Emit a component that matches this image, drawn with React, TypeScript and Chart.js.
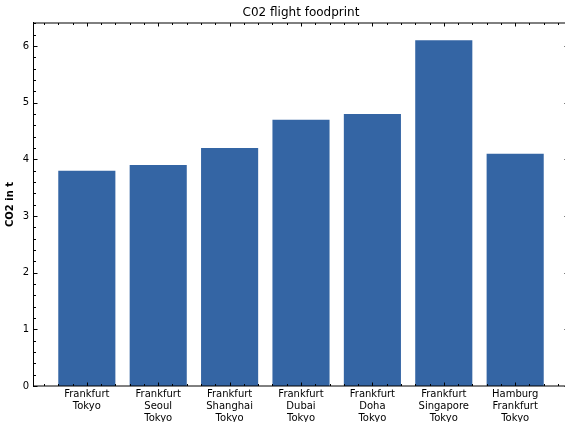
import { useEffect, useRef } from 'react';
import { Chart, registerables } from 'chart.js';

Chart.register(...registerables);

// Flight routes (one line per stop) and their CO2 footprint in tonnes
const routes: string[][] = [
  ['Frankfurt', 'Tokyo'],
  ['Frankfurt', 'Seoul', 'Tokyo'],
  ['Frankfurt', 'Shanghai', 'Tokyo'],
  ['Frankfurt', 'Dubai', 'Tokyo'],
  ['Frankfurt', 'Doha', 'Tokyo'],
  ['Frankfurt', 'Singapore', 'Tokyo'],
  ['Hamburg', 'Frankfurt', 'Tokyo'],
];
const co2Tonnes = [3.8, 3.9, 4.2, 4.7, 4.8, 6.1, 4.1];
const yTickValues = [0, 1, 2, 3, 4, 5, 6];

const X_MIN = -0.74;
const X_MAX = 6.74;
const Y_MAX = 6.405;
const MINOR_STEP = 0.2;

const FONT = 'DejaVu Sans';
const BAR_COLOR = '#3465a4';

function range(from: number, to: number, step: number): number[] {
  const out: number[] = [];
  const n = Math.floor((to - from) / step + 1e-9);
  for (let i = 0; i <= n; i++) out.push(+(from + i * step).toFixed(6));
  return out;
}

// Frame on all four sides with matplotlib-like inward ticks (major + minor)
const frameTicks = {
  id: 'frameTicks',
  afterDatasetsDraw(chart: any) {
    const { ctx, chartArea, scales } = chart;
    const { left, right, top, bottom } = chartArea;
    const xs = scales.x;
    const ys = scales.y;
    const L = Math.round(left) - 1;
    const R = Math.round(right);
    const T = Math.round(top);
    const B = Math.round(bottom);
    ctx.save();
    ctx.lineWidth = 1;
    ctx.strokeStyle = '#000';
    // top, bottom and right spines (soft), left spine crisp
    ctx.beginPath();
    ctx.moveTo(L, T);
    ctx.lineTo(R + 1, T);
    ctx.moveTo(L, B);
    ctx.lineTo(R + 1, B);
    ctx.moveTo(R + 0.5, T);
    ctx.lineTo(R + 0.5, B);
    ctx.stroke();
    ctx.fillStyle = '#000';
    ctx.fillRect(L, T - 1, 1, B - T + 1);

    const majorLen = 3.5;
    const minorLen = 2;
    const xMajors = routes.map((_, i) => i);
    const xMinors = range(Math.ceil(X_MIN / MINOR_STEP) * MINOR_STEP, X_MAX, MINOR_STEP).filter(
      (v) => Math.abs(v - Math.round(v)) > 1e-6
    );
    const yMinors = range(0, Y_MAX, MINOR_STEP).filter((v) => Math.abs(v - Math.round(v)) > 1e-6);

    ctx.beginPath();
    const vTick = (v: number, len: number) => {
      const px = Math.round(xs.getPixelForValue(v)) + 0.5;
      ctx.moveTo(px, B);
      ctx.lineTo(px, B - len);
      ctx.moveTo(px, T);
      ctx.lineTo(px, T + len);
    };
    const hTick = (v: number, len: number) => {
      const py = Math.round(ys.getPixelForValue(v)) + 0.5;
      ctx.moveTo(L, py);
      ctx.lineTo(L + 1 + len, py);
      ctx.moveTo(R + 1, py);
      ctx.lineTo(R - len, py);
    };
    xMajors.forEach((v) => vTick(v, majorLen));
    xMinors.forEach((v) => vTick(v, minorLen));
    yTickValues.forEach((v) => hTick(v, majorLen));
    yMinors.forEach((v) => hTick(v, minorLen));
    ctx.stroke();
    ctx.restore();
  },
};

export default function App() {
  const canvasRef = useRef<HTMLCanvasElement | null>(null);

  useEffect(() => {
    const canvas = canvasRef.current;
    if (!canvas) return;
    const chart = new Chart(canvas, {
      type: 'bar',
      data: {
        datasets: [
          {
            data: co2Tonnes.map((v, i) => ({ x: i, y: v })),
            backgroundColor: BAR_COLOR,
            borderWidth: 0,
            barPercentage: 0.8,
            categoryPercentage: 1,
          },
        ],
      },
      options: {
        animation: false,
        responsive: false,
        devicePixelRatio: 1,
        events: [],
        layout: { padding: { left: 0, right: 12, top: 0, bottom: 0 } },
        plugins: {
          legend: { display: false },
          tooltip: { enabled: false },
          title: {
            display: true,
            text: 'C02 flight foodprint',
            color: '#000',
            fullSize: false,
            font: { family: FONT, size: 12, weight: 'normal', lineHeight: 1.2 },
            padding: { top: 5.8, bottom: 2.8 },
          },
        },
        scales: {
          x: {
            type: 'linear',
            min: X_MIN,
            max: X_MAX,
            offset: false,
            afterBuildTicks: (s: any) => {
              s.ticks = routes.map((_, i) => ({ value: i }));
            },
            afterFit: (s: any) => {
              s.height = 36;
            },
            grid: { display: false, drawTicks: false, offset: false },
            border: { display: false },
            ticks: {
              padding: 2.7,
              maxRotation: 0,
              autoSkip: false,
              color: '#000',
              font: { family: FONT, size: 10, lineHeight: 1.17 },
              callback: (v: any) => routes[Math.round(Number(v))] ?? '',
            },
          },
          y: {
            min: 0,
            max: Y_MAX,
            afterBuildTicks: (s: any) => {
              s.ticks = yTickValues.map((v) => ({ value: v }));
            },
            afterFit: (s: any) => {
              s.width = 34;
            },
            grid: { display: false, drawTicks: false },
            border: { display: false },
            ticks: {
              padding: 5,
              color: '#000',
              font: { family: FONT, size: 10 },
              callback: (v: any) => String(v),
            },
            title: {
              display: true,
              text: 'CO2 in t',
              color: '#000',
              font: { family: FONT, size: 10, weight: 'bold', lineHeight: 1.2 },
              padding: { top: 4, bottom: 0 },
            },
          },
        },
      },
      plugins: [frameTicks],
    } as any);
    return () => chart.destroy();
  }, []);

  return (
    <div
      style={{
        position: 'fixed',
        left: 0,
        top: 0,
        width: 565,
        height: 422,
        overflow: 'hidden',
        background: '#fff',
      }}
    >
      <canvas ref={canvasRef} width={580} height={422} style={{ display: 'block' }} />
    </div>
  );
}
